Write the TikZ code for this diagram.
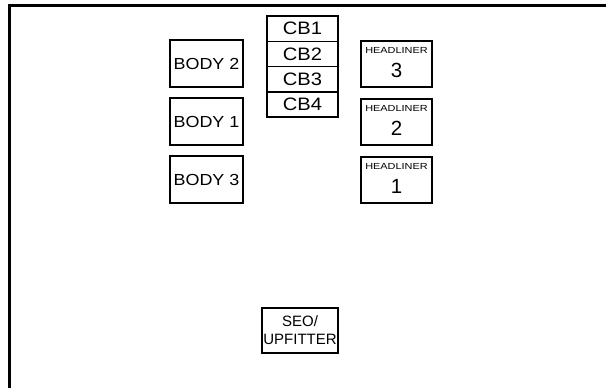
\documentclass[tikz,border=0pt]{standalone}
\usepackage{fontspec}
\setmainfont{Liberation Sans}
\newcommand{\hsc}[2]{\scalebox{#1}[1]{#2}}
\begin{document}
\begin{tikzpicture}[x=1pt,y=-1pt,
  box/.style={draw, line width=1.5pt, inner sep=0pt, outer sep=0pt, anchor=north west, align=center},
  bodybox/.style={box, minimum width=73pt, minimum height=47pt, font=\fontsize{16}{16}\selectfont},
  cbbox/.style={box, minimum width=71pt, minimum height=25.25pt, font=\fontsize{18}{18}\selectfont},
  hlbox/.style={box, minimum width=71pt, minimum height=46pt},
  hltext/.style={inner sep=0pt, font=\fontsize{8.8}{9}\selectfont},
  hlnum/.style={inner sep=0pt, font=\fontsize{20.5}{21}\selectfont},
  frame/.style={line width=3pt}]
\useasboundingbox (0,0) rectangle (606,388);
% frame
\coordinate (ftl) at (9.5,5.5);
\coordinate (fbl) at (9.5,388);
\coordinate (ftr) at (606,5.5);
\draw[frame] (fbl) -- (ftl) -- (ftr);
% body
\node[bodybox] (body2) at (170,40) {\hsc{1.12}{BODY 2}};
\node[bodybox] (body1) at (170,98) {\hsc{1.12}{BODY 1}};
\node[bodybox] (body3) at (170,156) {\hsc{1.12}{BODY 3}};
% CB
\node[cbbox] (cb1) at (267,16) {\hsc{1.12}{CB1}};
\node[cbbox] (cb2) at (267,41.25) {\hsc{1.12}{CB2}};
\node[cbbox] (cb3) at (267,66.5) {\hsc{1.12}{CB3}};
\node[cbbox] (cb4) at (267,91.75) {\hsc{1.12}{CB4}};
% headliner
\node[hlbox] (hl3) at (361,41) {};
\node[hlbox] (hl2) at (361,99) {};
\node[hlbox] (hl1) at (361,157) {};
\foreach \n/\d in {hl3/3, hl2/2, hl1/1}{
  \node[hltext] (\n t) at ([yshift=-9.5pt]\n.north) {\hsc{1.24}{HEADLINER}};
  \node[hlnum] (\n n) at ([yshift=-29pt]\n.north) {\d};
}
% SEO
\node[box, minimum width=76pt, minimum height=45pt, font=\fontsize{15}{18}\selectfont] (seo) at (262,308) {SEO/\\UPFITTER};
\end{tikzpicture}
\end{document}
